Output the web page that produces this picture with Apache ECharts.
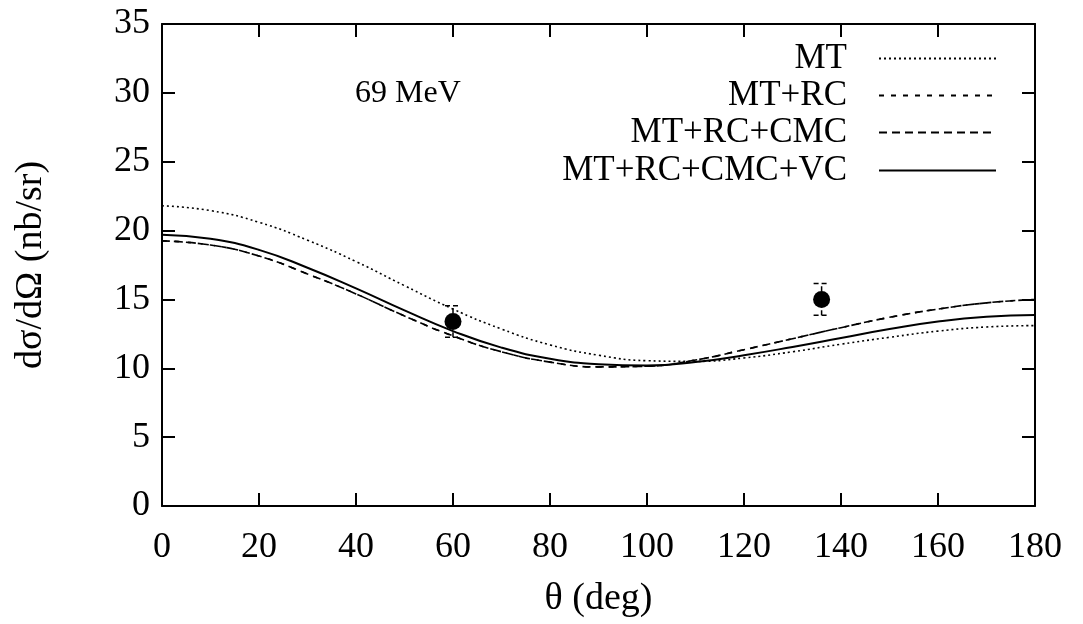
<!DOCTYPE html>
<html lang="en">
<head>
    <meta charset="UTF-8">
    <title>69 MeV</title>
    <script src="https://cdn.jsdelivr.net/npm/echarts@6/dist/echarts.min.js"></script>
    <style>
        html, body { margin: 0; padding: 0; background: #fff; }
        #chartmain { width: 1083px; height: 624px; }
    </style>
</head>
<body>
<div id="chartmain"></div>
<script type="text/javascript">
    // angles (deg)
    var theta = [0, 10, 20, 30, 40, 50, 60, 70, 80, 90, 100, 110, 120, 130, 140, 150, 160, 170, 180];
    // curves (nb/sr)
    var mt       = [21.8, 21.45, 20.6, 19.3, 17.75, 16.0, 14.3, 12.85, 11.7, 10.95, 10.55, 10.5, 10.75, 11.2, 11.75, 12.25, 12.7, 13.0, 13.1];
    var mtRc     = [19.25, 18.95, 18.15, 16.85, 15.4, 13.8, 12.35, 11.2, 10.45, 10.1, 10.15, 10.6, 11.35, 12.15, 12.95, 13.7, 14.3, 14.75, 15.0];
    var mtRcCmc  = [19.25, 18.95, 18.15, 16.85, 15.4, 13.8, 12.35, 11.2, 10.45, 10.1, 10.15, 10.6, 11.35, 12.15, 12.95, 13.7, 14.3, 14.75, 15.0];
    var mtRcCmcVc = [19.7, 19.4, 18.6, 17.3, 15.8, 14.2, 12.7, 11.5, 10.7, 10.3, 10.2, 10.45, 10.95, 11.55, 12.2, 12.85, 13.4, 13.75, 13.87];
    // measured points
    var dataTheta = [60, 136];
    var dataValue = [13.4, 15.0];
    var dataError = [1.15, 1.15];

    var FONT = '"Liberation Serif", "DejaVu Serif", serif';
    var xTicks = { min: 0, max: 180, interval: 20 };
    var yTicks = { min: 0, max: 35, interval: 5 };

    function pairs(ys) {
        return theta.map(function (t, i) { return [t, ys[i]]; });
    }

    var myChart = echarts.init(document.getElementById('chartmain'));

    var frameLine = { show: true, onZero: false, lineStyle: { color: '#000', width: 2 } };
    var tickIn = { show: true, inside: true, length: 13, lineStyle: { color: '#000', width: 2 } };

    function legendFor(name, top) {
        return {
            data: [name],
            right: 86,
            top: top,
            align: 'right',
            padding: 0,
            itemWidth: 117,
            itemHeight: 14,
            selectedMode: false,
            itemStyle: { opacity: 0 },
            textStyle: { fontFamily: FONT, fontSize: 35, color: '#000', lineHeight: 34, padding: [0, 27, 0, 0] }
        };
    }

    function curve(name, ys, width, dash) {
        return {
            name: name, type: 'line', data: pairs(ys),
            smooth: true, symbol: 'none',
            itemStyle: { color: '#000' },
            lineStyle: { color: '#000', width: width, type: dash }
        };
    }

    var option = {
        animation: false,
        backgroundColor: '#fff',
        title: {
            text: '69 MeV',
            left: 355,
            top: 78,
            padding: 0,
            textStyle: { fontFamily: FONT, fontSize: 32, fontWeight: 'normal', color: '#000' }
        },
        legend: [
            legendFor('MT', 41),
            legendFor('MT+RC', 78),
            legendFor('MT+RC+CMC', 115),
            legendFor('MT+RC+CMC+VC', 153)
        ],
        grid: { left: 162, right: 48, top: 24, bottom: 118 },
        xAxis: [{
            type: 'value',
            min: xTicks.min, max: xTicks.max, interval: xTicks.interval,
            name: 'θ (deg)',
            nameLocation: 'middle',
            nameGap: 74,
            nameTextStyle: { fontFamily: FONT, fontSize: 38, color: '#000' },
            axisLine: frameLine,
            axisTick: tickIn,
            splitLine: { show: false },
            axisLabel: { fontFamily: FONT, fontSize: 36, color: '#000', margin: 24 }
        }, {
            type: 'value', position: 'top',
            min: xTicks.min, max: xTicks.max, interval: xTicks.interval,
            axisLine: frameLine,
            axisTick: tickIn,
            splitLine: { show: false },
            axisLabel: { show: false }
        }],
        yAxis: [{
            type: 'value',
            min: yTicks.min, max: yTicks.max, interval: yTicks.interval,
            name: 'dσ/dΩ (nb/sr)',
            nameLocation: 'middle',
            nameGap: 112,
            nameTextStyle: { fontFamily: FONT, fontSize: 38, color: '#000' },
            axisLine: frameLine,
            axisTick: tickIn,
            splitLine: { show: false },
            axisLabel: { fontFamily: FONT, fontSize: 36, color: '#000', margin: 12 }
        }, {
            type: 'value', position: 'right',
            min: yTicks.min, max: yTicks.max, interval: yTicks.interval,
            axisLine: frameLine,
            axisTick: tickIn,
            splitLine: { show: false },
            axisLabel: { show: false }
        }],
        series: [
            curve('MT', mt, 1.6, [2, 3]),
            curve('MT+RC', mtRc, 1.6, [5, 7]),
            curve('MT+RC+CMC', mtRcCmc, 1.6, [8, 5]),
            curve('MT+RC+CMC+VC', mtRcCmcVc, 2, 'solid'),
            {
                type: 'custom',
                data: dataTheta.map(function (t, i) { return [t, dataValue[i] - dataError[i], dataValue[i] + dataError[i]]; }),
                renderItem: function (params, api) {
                    var lo = api.coord([api.value(0), api.value(1)]);
                    var hi = api.coord([api.value(0), api.value(2)]);
                    var w = 8;
                    var st = { stroke: '#000', lineWidth: 1.5, lineDash: [5, 3] };
                    return {
                        type: 'group',
                        children: [
                            { type: 'line', shape: { x1: lo[0], y1: lo[1], x2: hi[0], y2: hi[1] }, style: st },
                            { type: 'line', shape: { x1: lo[0] - w, y1: lo[1], x2: lo[0] + w, y2: lo[1] }, style: st },
                            { type: 'line', shape: { x1: hi[0] - w, y1: hi[1], x2: hi[0] + w, y2: hi[1] }, style: st }
                        ]
                    };
                },
                z: 3
            }, {
                type: 'scatter',
                data: dataTheta.map(function (t, i) { return [t, dataValue[i]]; }),
                symbol: 'circle',
                symbolSize: 17,
                itemStyle: { color: '#000', opacity: 1 },
                z: 4
            }
        ]
    };
    myChart.setOption(option);
</script>
</body>
</html>
